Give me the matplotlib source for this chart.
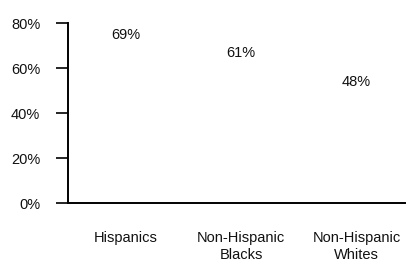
import numpy as np
import matplotlib
matplotlib.use("Agg")
import matplotlib.pyplot as plt

# --- data ---
groups = ["Hispanics", "Non-Hispanic\nBlacks", "Non-Hispanic\nWhites"]
shares = [69, 61, 48]
yticks = [0, 20, 40, 60, 80]

plt.rcParams['font.family'] = ['Liberation Sans', 'DejaVu Sans']

fig = plt.figure(figsize=(4.13, 2.62), dpi=100)
ax = fig.add_axes([0.165, 0.225, 0.816, 0.687])

x = np.arange(len(groups))
# the bars came out white in the scan, only the value labels survive
ax.bar(x, shares, width=0.31, color="white", edgecolor="none")
for xi, v in zip(x, shares):
    ax.text(xi, v + 2.5, f"{v}%", ha="center", va="bottom", fontsize=10.5, color="#111111")

ax.set_xlim(-0.5, 2.42)
ax.set_ylim(0, 80)
ax.set_yticks(yticks)
ax.set_yticklabels([f"{t}%" for t in yticks], fontsize=10.5, color="#111111")
ax.set_xticks(x)
ax.set_xticklabels(groups, fontsize=10.5, color="#111111", linespacing=1.25)
ax.tick_params(axis="x", length=0, pad=20)
ax.tick_params(axis="y", length=9, width=1.2, direction="out", pad=11)

for side in ["top", "right"]:
    ax.spines[side].set_visible(False)
ax.spines["left"].set_linewidth(1.4)
ax.spines["bottom"].set_linewidth(1.4)

fig.savefig("out.png", dpi=100)
